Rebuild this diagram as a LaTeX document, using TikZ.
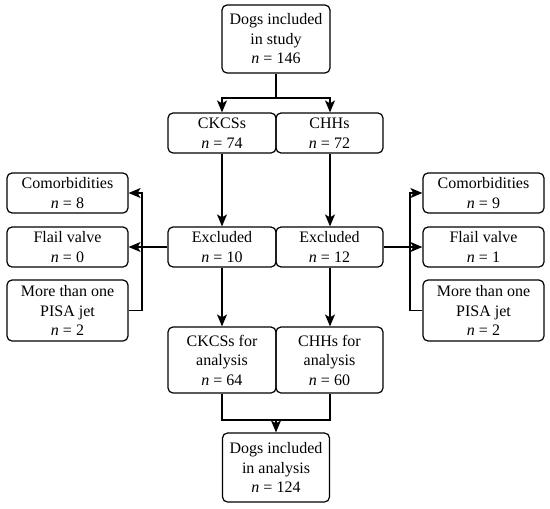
\documentclass[tikz,border=0pt]{standalone}
\usepackage{fontspec}
\setmainfont{Liberation Serif}
\newfontfamily\boxfont{Liberation Serif}
\usepackage{tikz}
\usetikzlibrary{arrows.meta, positioning}

\tikzset{
    box/.style={draw, line width=1.2pt, rounded corners=5pt, align=center,
        inner sep=0pt, minimum width=108pt, minimum height=40pt,
        font=\boxfont\fontsize{16}{19.5}\selectfont},
    sidebox/.style={box, minimum width=121pt},
    flow/.style={line width=1.3pt, -{Stealth[length=12pt, width=10pt, inset=3pt]}},
    link/.style={line width=1.3pt}
}

\begin{document}
\begin{tikzpicture}[x=1pt, y=-1pt]
    \useasboundingbox (0,0) rectangle (550,509);

    % 1. Khối chính
    \node[box, minimum height=68pt] (study) at (276,39) {Dogs included\\in study\\\textit{n} = 146};
    \node[box] (ckcs) at (222,133) {CKCSs\\\textit{n} = 74};
    \node[box, minimum width=107pt] (chh) at (329.5,133) {CHHs\\\textit{n} = 72};
    \node[box] (exl) at (222,247) {Excluded\\\textit{n} = 10};
    \node[box, minimum width=107pt] (exr) at (329.5,247) {Excluded\\\textit{n} = 12};
    \node[box, minimum height=66pt] (anl) at (222,360) {CKCSs for\\analysis\\\textit{n} = 64};
    \node[box, minimum width=107pt, minimum height=66pt] (anr) at (329.5,360) {CHHs for\\analysis\\\textit{n} = 60};
    \node[box, minimum width=107pt, minimum height=69pt] (final) at (276,467.5) {Dogs included\\in analysis\\\textit{n} = 124};

    % 2. Các khối loại trừ
    \node[sidebox] (coml) at (67.5,193) {Comorbidities\\\textit{n} = 8};
    \node[sidebox] (flaill) at (67.5,247) {Flail valve\\\textit{n} = 0};
    \node[sidebox, minimum height=61pt] (pisal) at (67.5,310.5) {More than one\\PISA jet\\\textit{n} = 2};
    \node[sidebox] (comr) at (483.5,193) {Comorbidities\\\textit{n} = 9};
    \node[sidebox] (flailr) at (483.5,247) {Flail valve\\\textit{n} = 1};
    \node[sidebox, minimum height=61pt] (pisar) at (483.5,310.5) {More than one\\PISA jet\\\textit{n} = 2};

    % 3. Các điểm nối
    \coordinate (split) at (276,98);
    \coordinate (merge) at (276,420);
    \coordinate (bl) at (142,247);
    \coordinate (br) at (410,247);

    % 4. Mũi tên
    \draw[link] (study.south) -- (split);
    \draw[flow] (split) -| (ckcs.north);
    \draw[flow] (split) -| ([xshift=0.5pt]chh.north);
    \draw[flow] (ckcs) -- (exl);
    \draw[flow] ([xshift=0.5pt]chh.south) -- ([xshift=0.5pt]exr.north);
    \draw[flow] (exl) -- (anl);
    \draw[flow] ([xshift=0.5pt]exr.south) -- ([xshift=0.5pt]anr.north);
    \draw[flow] (exl.west) -- (flaill.east);
    \draw[flow, line width=1.8pt] (exr.east) -- (flailr.west);
    \draw[flow, {Stealth[length=12pt, width=10pt, inset=3pt]}-] (coml.east) -| (bl) |- (pisal.east);
    \draw[flow, {Stealth[length=12pt, width=10pt, inset=3pt]}-] (comr.west) -| (br) |- (pisar.west);
    \draw[link] (anl.south) |- (merge) -| ([xshift=0.5pt]anr.south);
    \draw[flow] (merge) -- (final.north);
\end{tikzpicture}
\end{document}
